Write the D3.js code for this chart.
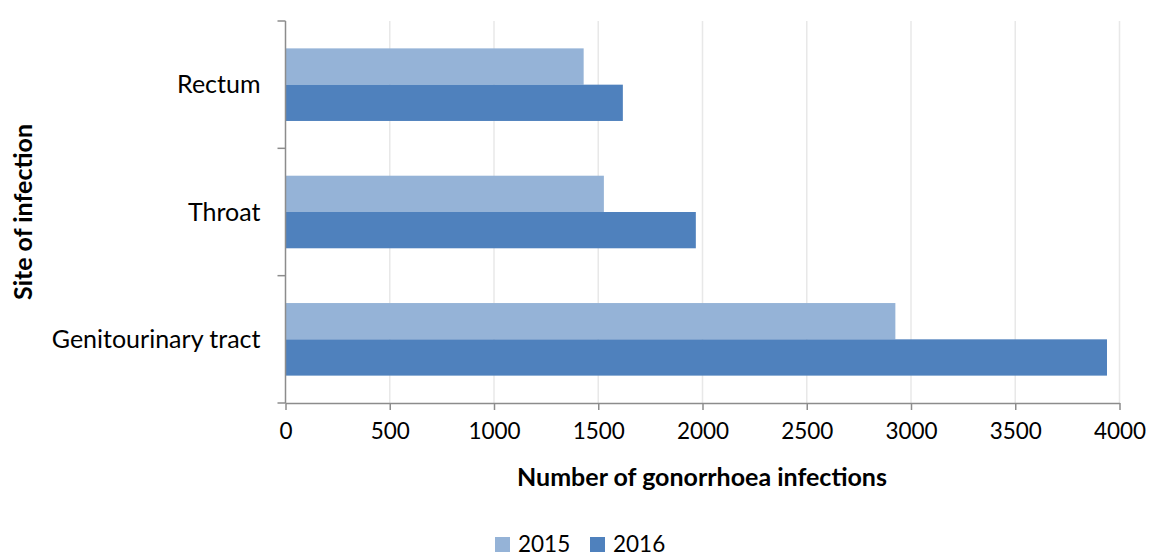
<!DOCTYPE html>
<html><head><meta charset="utf-8">
<script src="https://cdn.jsdelivr.net/npm/d3@7"></script>
<style>body{margin:0;background:#fff;} svg{display:block;font-family:Lato,"Open Sans",sans-serif;}</style>
</head><body>
<svg id="c" width="1150" height="558"></svg>
<script>
const categories = ["Rectum", "Throat", "Genitourinary tract"];
const seriesNames = ["2015", "2016"];
const values2015 = [1430, 1527, 2925];
const values2016 = [1618, 1968, 3940];
const xTicks = [0, 500, 1000, 1500, 2000, 2500, 3000, 3500, 4000];
const colors = ["#95B3D7", "#4F81BD"];
const xTitle = "Number of gonorrhoea infections";
const yTitle = "Site of infection";

const svg = d3.select("#c");
const L = 285.5, R = 1119.5, T = 21, B = 403;
const x = d3.scaleLinear().domain([0, 4000]).range([L, R]);
const y = d3.scaleBand().domain(categories).range([T, B]).paddingInner(0.43).paddingOuter(0.215);
const ys = d3.scaleBand().domain(seriesNames).range([0, y.bandwidth()]);

// gridlines
svg.append("g").selectAll("line").data(xTicks.filter(d => d > 0)).join("line")
  .attr("x1", d => x(d)).attr("x2", d => x(d)).attr("y1", T).attr("y2", B)
  .attr("stroke", "#E8E8E8").attr("stroke-width", 1.5);

// bars
const series = [values2015, values2016];
series.forEach((vals, si) => {
  svg.append("g").selectAll("rect").data(categories).join("rect")
    .attr("x", x(0))
    .attr("y", (c) => y(c) + ys(seriesNames[si]))
    .attr("width", (c, i) => x(vals[i]) - x(0))
    .attr("height", ys.bandwidth())
    .attr("fill", colors[si]);
});

// x axis
const xAxis = d3.axisBottom(x).tickValues(xTicks).tickFormat(d3.format("d"))
  .tickSize(7).tickSizeOuter(0).tickPadding(13);
const gx = svg.append("g").attr("transform", `translate(0,${B})`).call(xAxis);
gx.select(".domain").attr("stroke", "#8C8C8C").attr("stroke-width", 1.5);
gx.selectAll(".tick line").attr("stroke", "#8C8C8C").attr("stroke-width", 1.5);
gx.selectAll(".tick text").attr("font-size", 22.5).attr("font-family", "Lato").attr("fill", "#000");

// y axis
const gy = svg.append("g").attr("transform", `translate(${L},0)`);
gy.append("line").attr("x1", 0).attr("x2", 0).attr("y1", T).attr("y2", B)
  .attr("stroke", "#8C8C8C").attr("stroke-width", 1.5);
const boundaries = [T, B].concat(categories.slice(1).map(c => y(c) - y.step() * y.paddingInner() / 2));
gy.selectAll("line.t").data(boundaries).join("line").attr("class", "t")
  .attr("x1", -8).attr("x2", 0).attr("y1", d => d).attr("y2", d => d)
  .attr("stroke", "#8C8C8C").attr("stroke-width", 1.5);
gy.selectAll("text").data(categories).join("text")
  .attr("x", -25).attr("y", c => y(c) + y.bandwidth() / 2)
  .attr("dy", "0.35em").attr("text-anchor", "end")
  .attr("font-size", 25).attr("fill", "#000").text(c => c);

// titles
svg.append("text").attr("x", 702).attr("y", 486).attr("text-anchor", "middle")
  .attr("font-size", 25).attr("font-weight", "bold").attr("fill", "#000").text(xTitle);
svg.append("text").attr("transform", `translate(32,${(T + B) / 2}) rotate(-90)`)
  .attr("text-anchor", "middle").attr("font-size", 25).attr("font-weight", "bold")
  .attr("fill", "#000").text(yTitle);

// legend
const lg = svg.append("g");
const legX = [495, 590];
seriesNames.forEach((s, i) => {
  lg.append("rect").attr("x", legX[i]).attr("y", 537).attr("width", 15).attr("height", 15).attr("fill", colors[i]);
  lg.append("text").attr("x", legX[i] + 23).attr("y", 552).attr("font-size", 22.5).attr("fill", "#000").text(s);
});
</script>
</body></html>
